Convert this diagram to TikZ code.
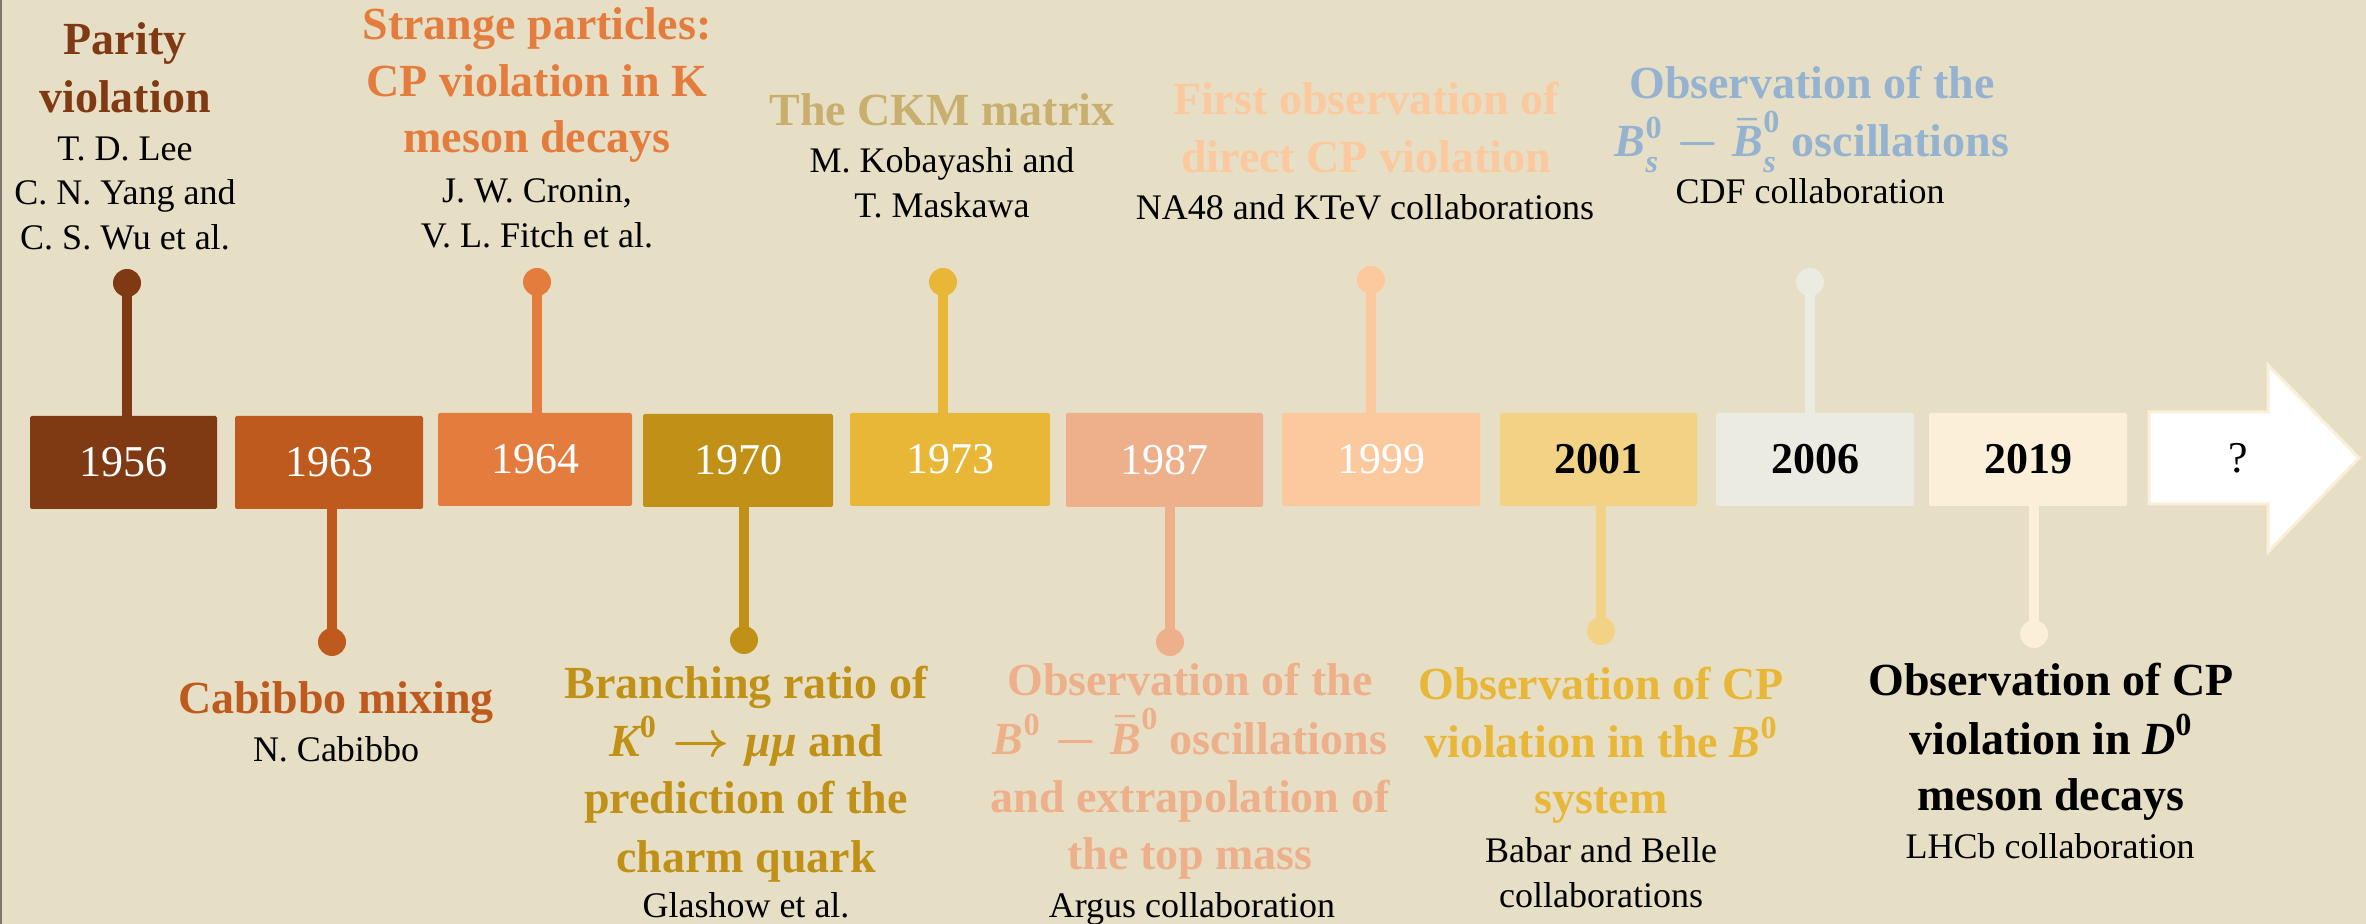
\documentclass[tikz,border=0pt]{standalone}
\usepackage{fontspec}
\setmainfont{Liberation Serif}
\usepackage{amsmath}
\definecolor{bg}{HTML}{E6DFC6}
\definecolor{cA}{HTML}{7F3A13}
\definecolor{cB}{HTML}{BE5A1E}
\definecolor{cC}{HTML}{E47C3E}
\definecolor{cD}{HTML}{C09116}
\definecolor{cE}{HTML}{E8B737}
\definecolor{tE}{HTML}{C9AF6D}
\definecolor{cF}{HTML}{EEAF8B}
\definecolor{cG}{HTML}{FCC89D}
\definecolor{cH}{HTML}{F2D386}
\definecolor{cI}{HTML}{ECEBE2}
\definecolor{tI}{HTML}{95B3D1}
\definecolor{cJ}{HTML}{FBEFD9}
\definecolor{edge}{HTML}{7D786E}
\tikzset{
  ttl/.style={anchor=base, inner sep=0pt, font=\bfseries\boldmath\fontsize{23}{27}\selectfont},
  aut/.style={anchor=base, inner sep=0pt, text=black, font=\fontsize{18}{22}\selectfont},
  yearbox/.style={rectangle, inner sep=0pt, rounded corners=0.8pt, font=\fontsize{22}{26}\selectfont},
  whiteyear/.style={yearbox, text=white},
  blackyear/.style={yearbox, text=black, font=\bfseries\fontsize{22}{26}\selectfont},
  stem/.style={line width=5pt},
  dot/.style={circle, inner sep=0pt, minimum size=14pt},
}
\newcommand\TT[5]{\node[ttl,text=#2] (#1) at (#3,#4) {#5};}
\newcommand\AU[4]{\node[aut] (#1) at (#2,#3) {#4};}
\newcommand\bi[1]{\text{\itshape #1}}
\newcommand\zr{\text{0}}
\begin{document}
\begin{tikzpicture}[x=0.5pt,y=-0.5pt]
\fill[bg] (0,0) rectangle (2366,924);
\useasboundingbox (0,0) rectangle (2366,924);
\draw[edge, line width=1pt] (1,0) -- (1,924);

% year boxes
\node[whiteyear, fill=cA, minimum width=93.5pt, minimum height=46.5pt] (b1956) at (123.5,462.5) {1956};
\node[whiteyear, fill=cB, minimum width=94pt, minimum height=46.5pt] (b1963) at (329,462.5) {1963};
\node[whiteyear, fill=cC, minimum width=97pt, minimum height=46.5pt] (b1964) at (535,459.5) {1964};
\node[whiteyear, fill=cD, minimum width=95pt, minimum height=46.5pt] (b1970) at (738,460.5) {1970};
\node[whiteyear, fill=cE, minimum width=100pt, minimum height=46.5pt] (b1973) at (950,459.5) {1973};
\node[whiteyear, fill=cF, minimum width=98.5pt, minimum height=47pt] (b1987) at (1164.5,460) {1987};
\node[whiteyear, fill=cG, minimum width=99pt, minimum height=46.5pt] (b1999) at (1381,459.5) {1999};
\node[blackyear, fill=cH, minimum width=98.5pt, minimum height=46.5pt] (b2001) at (1598.5,459.5) {2001};
\node[blackyear, fill=cI, minimum width=99pt, minimum height=46.5pt] (b2006) at (1815,459.5) {2006};
\node[blackyear, fill=cJ, minimum width=99pt, minimum height=46.5pt] (b2019) at (2028,459.5) {2019};

% final arrow
\coordinate (a1) at (2149,412);
\coordinate (a2) at (2268,412);
\coordinate (a3) at (2268,365);
\coordinate (a4) at (2359,458);
\coordinate (a5) at (2268,552);
\coordinate (a6) at (2268,504);
\coordinate (a7) at (2149,504);
\filldraw[fill=white, draw=cJ, line width=1.5pt, line join=miter] (a1) -- (a2) -- (a3) -- (a4) -- (a5) -- (a6) -- (a7) -- cycle;
\node[inner sep=0pt, text=black, font=\fontsize{22}{26}\selectfont] (q) at (2238,458) {?};

% lollipops (top)
\node[dot, fill=cA] (d1956) at (127,283) {};
\node[dot, fill=cC] (d1964) at (537,282) {};
\node[dot, fill=cE] (d1973) at (943,282) {};
\node[dot, fill=cG] (d1999) at (1371,280) {};
\node[dot, fill=cI] (d2006) at (1810,282) {};
\draw[stem, cA] (d1956.center) -- (d1956 |- b1956.north);
\draw[stem, cC] (d1964.center) -- (d1964 |- b1964.north);
\draw[stem, cE] (d1973.center) -- (d1973 |- b1973.north);
\draw[stem, cG] (d1999.center) -- (d1999 |- b1999.north);
\draw[stem, cI] (d2006.center) -- (d2006 |- b2006.north);

% lollipops (bottom)
\node[dot, fill=cB] (d1963) at (332,642) {};
\node[dot, fill=cD] (d1970) at (744,640) {};
\node[dot, fill=cF] (d1987) at (1170,642) {};
\node[dot, fill=cH] (d2001) at (1601,631) {};
\node[dot, fill=cJ] (d2019) at (2034,634) {};
\draw[stem, cB] (d1963 |- b1963.south) -- (d1963.center);
\draw[stem, cD] (d1970 |- b1970.south) -- (d1970.center);
\draw[stem, cF] (d1987 |- b1987.south) -- (d1987.center);
\draw[stem, cH] (d2001 |- b2001.south) -- (d2001.center);
\draw[stem, cJ] (d2019 |- b2019.south) -- (d2019.center);

% ---- top labels
\TT{p1}{cA}{125}{55}{Parity}
\TT{p2}{cA}{125}{113}{violation}
\AU{p3}{125}{161}{T. D. Lee}
\AU{p4}{125}{205}{C. N. Yang and}
\AU{p5}{125}{250}{C. S. Wu et al.}

\TT{s1}{cC}{537}{40}{Strange particles:}
\TT{s2}{cC}{537}{97}{CP violation in K}
\TT{s3}{cC}{537}{153}{meson decays}
\AU{s4}{537}{203}{J. W. Cronin,}
\AU{s5}{537}{248}{V. L. Fitch et al.}

\TT{k1}{tE}{942}{126}{The CKM matrix}
\AU{k2}{942}{173}{M. Kobayashi and}
\AU{k3}{942}{218}{T. Maskawa}

\TT{f1}{cG}{1366}{115}{First observation of}
\TT{f2}{cG}{1366}{173}{direct CP violation}
\AU{f3}{1365}{220}{NA48 and KTeV collaborations}

\TT{o1}{tI}{1812}{99}{Observation of the}
\TT{o2}{tI}{1812}{157}{$\bi{B}_{\bi{s}}^{\zr}-\bar{\bi{B}}_{\bi{s}}^{\zr}$ oscillations}
\AU{o3}{1810}{204}{CDF collaboration}

% ---- bottom labels
\TT{c1}{cB}{336}{713}{Cabibbo mixing}
\AU{c2}{336}{761}{N. Cabibbo}

\TT{g1}{cD}{746}{698}{Branching ratio of}
\TT{g2}{cD}{746}{756}{$\bi{K}^{\zr}\to\bi{μμ}$ and}
\TT{g3}{cD}{746}{813}{prediction of the}
\TT{g4}{cD}{746}{872}{charm quark}
\AU{g5}{746}{917}{Glashow et al.}

\TT{r1}{cF}{1190}{695}{Observation of the}
\TT{r2}{cF}{1190}{754}{$\bi{B}^{\zr}-\bar{\bi{B}}^{\zr}$ oscillations}
\TT{r3}{cF}{1190}{812}{and extrapolation of}
\TT{r4}{cF}{1190}{869}{the top mass}
\AU{r5}{1192}{917}{Argus collaboration}

\TT{v1}{cE}{1601}{699}{Observation of CP}
\TT{v2}{cE}{1601}{757}{violation in the $\bi{B}^{\zr}$}
\TT{v3}{cE}{1601}{813}{system}
\AU{v4}{1601}{862}{Babar and Belle}
\AU{v5}{1601}{907}{collaborations}

\TT{l1}{black}{2051}{695}{Observation of CP}
\TT{l2}{black}{2051}{754}{violation in $\bi{D}^{\zr}$}
\TT{l3}{black}{2051}{810}{meson decays}
\AU{l4}{2050}{858}{LHCb collaboration}
\end{tikzpicture}
\end{document}
